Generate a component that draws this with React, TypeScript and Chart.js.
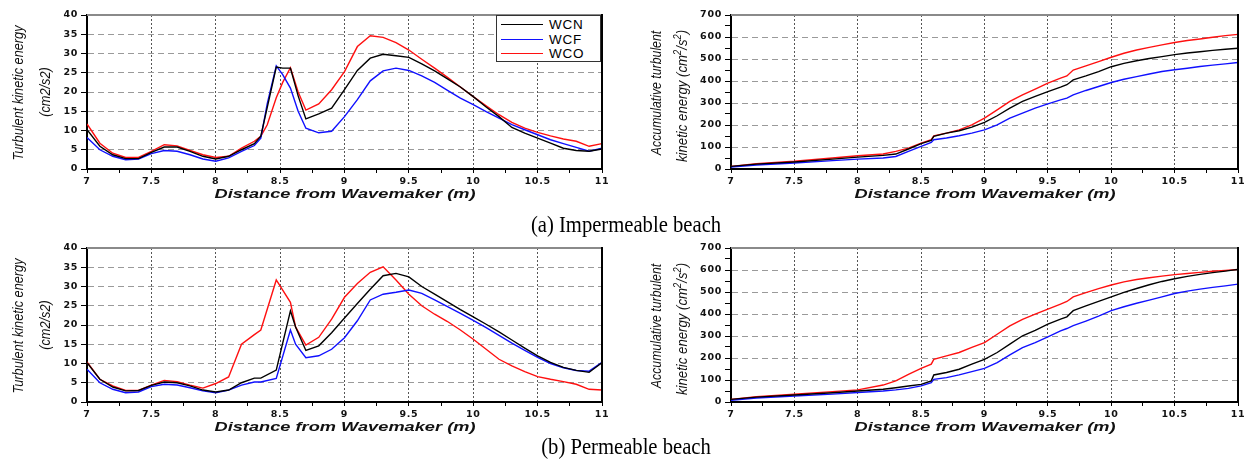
import React, { useEffect, useRef } from "react";
import { Chart, registerables } from "chart.js";

Chart.register(...registerables);

// ---------- (a) Impermeable beach: turbulent kinetic energy ----------
const X_TKE_IMP = [7, 7.1, 7.2, 7.3, 7.4, 7.5, 7.6, 7.7, 7.8, 7.9, 8, 8.1, 8.2, 8.3, 8.35, 8.4, 8.47, 8.52, 8.58, 8.64, 8.7, 8.8, 8.9, 9, 9.1, 9.2, 9.3, 9.4, 9.5, 9.6, 9.7, 9.8, 9.9, 10, 10.1, 10.2, 10.3, 10.4, 10.5, 10.6, 10.7, 10.8, 10.9, 11];
const TKE_IMP_WCN = [10.2, 5.9, 3.7, 2.7, 2.7, 4.3, 5.7, 5.7, 4.6, 3.3, 2.6, 3.3, 5.0, 6.6, 8.5, 16, 26.5, 26.2, 26.2, 19, 13.0, 14.3, 15.8, 20.6, 25.6, 28.8, 29.8, 29.4, 29.0, 27.3, 25.5, 23.4, 21.3, 18.8, 16.1, 13.6, 10.8, 9.3, 8.0, 6.7, 5.4, 4.8, 4.6, 5.2];
const TKE_IMP_WCF = [8.2, 5.0, 3.3, 2.4, 2.6, 4.0, 4.8, 4.6, 3.7, 2.6, 2.0, 2.9, 4.6, 6.1, 8.0, 17, 26.8, 24.5, 21, 15, 10.6, 9.4, 9.8, 13.6, 18.0, 22.9, 25.5, 26.2, 25.6, 24.2, 22.5, 20.4, 18.4, 16.7, 14.9, 13.2, 11.5, 10.2, 8.9, 7.6, 6.6, 5.6, 4.6, 5.4];
const TKE_IMP_WCO = [11.7, 6.7, 4.1, 3.0, 3.0, 4.6, 6.3, 6.0, 4.8, 3.7, 3.0, 3.3, 5.4, 7.2, 8.5, 11.5, 18.5, 22.5, 26.3, 20, 15.3, 16.9, 20.6, 25.3, 31.8, 34.6, 34.2, 32.8, 30.9, 28.5, 26.2, 23.8, 21.3, 18.8, 16.4, 14.1, 12.1, 10.6, 9.5, 8.6, 7.8, 7.2, 5.9, 6.6];

// ---------- (b) Permeable beach: turbulent kinetic energy ----------
const X_TKE_PER = [7, 7.1, 7.2, 7.3, 7.4, 7.5, 7.6, 7.7, 7.8, 7.9, 8, 8.1, 8.2, 8.3, 8.35, 8.47, 8.58, 8.62, 8.7, 8.8, 8.9, 9, 9.1, 9.2, 9.3, 9.4, 9.5, 9.6, 9.7, 9.8, 9.9, 10, 10.1, 10.2, 10.3, 10.4, 10.5, 10.6, 10.7, 10.8, 10.9, 11];
const TKE_PER_WCN = [10.2, 5.9, 3.9, 2.9, 3.0, 4.3, 5.2, 5.0, 4.2, 3.1, 2.6, 3.1, 5.0, 6.2, 6.2, 8.3, 23.7, 19.5, 13.4, 14.6, 18.0, 21.8, 25.6, 29.3, 32.8, 33.4, 32.5, 30.0, 28.0, 26.0, 24.0, 22.1, 20.2, 18.2, 16.1, 14.0, 12.0, 10.3, 9.0, 8.2, 7.7, 10.2];
const TKE_PER_WCF = [8.5, 5.0, 3.3, 2.4, 2.6, 4.0, 4.6, 4.4, 3.7, 2.9, 2.4, 3.1, 4.4, 5.2, 5.2, 6.1, 18.7, 15.0, 11.5, 12.0, 13.7, 16.7, 21.1, 26.5, 28.0, 28.5, 29.1, 28.2, 26.5, 24.8, 23.0, 21.2, 19.3, 17.3, 15.3, 13.4, 11.6, 10.0, 8.9, 8.2, 8.0, 10.3];
const TKE_PER_WCO = [10.4, 5.9, 4.2, 3.0, 3.0, 4.4, 5.6, 5.3, 4.4, 3.6, 4.8, 6.5, 15.0, 17.5, 18.7, 31.7, 25.9, 19.5, 14.8, 16.8, 21.5, 27.2, 30.8, 33.7, 35.1, 31.7, 28.0, 25.0, 22.8, 20.9, 18.7, 16.3, 13.7, 11.1, 9.4, 7.9, 6.6, 5.9, 5.3, 4.6, 3.3, 3.1];

// ---------- Accumulative turbulent kinetic energy ----------
const X_ACC = [7, 7.2, 7.5, 7.8, 8, 8.2, 8.3, 8.4, 8.5, 8.58, 8.6, 8.7, 8.8, 8.9, 9, 9.1, 9.2, 9.3, 9.4, 9.5, 9.6, 9.65, 9.7, 9.8, 9.9, 10, 10.1, 10.2, 10.3, 10.4, 10.5, 10.6, 10.7, 10.8, 10.9, 11];
const ACC_IMP_WCN = [12, 22, 32, 45, 54, 62, 68, 91, 115, 130, 148, 163, 174, 190, 212, 242, 277, 307, 330, 352, 372, 383, 405, 423, 443, 465, 480, 492, 502, 511, 520, 527, 533, 539, 544, 549];
const ACC_IMP_WCF = [9, 18, 27, 38, 45, 50, 57, 80, 103, 121, 133, 141, 151, 163, 178, 201, 231, 254, 277, 296, 314, 322, 337, 357, 375, 393, 408, 420, 432, 443, 451, 458, 466, 472, 478, 484];
const ACC_IMP_WCO = [12, 24, 35, 50, 60, 68, 80, 95, 118, 133, 151, 163, 178, 201, 231, 269, 307, 337, 363, 390, 413, 423, 450, 469, 488, 508, 526, 541, 553, 564, 575, 584, 591, 599, 606, 612];
const ACC_PER_WCN = [12, 22, 32, 42, 50, 58, 65, 73, 80, 96, 123, 134, 149, 172, 194, 225, 263, 301, 326, 354, 377, 387, 415, 437, 457, 478, 498, 516, 533, 548, 560, 571, 580, 588, 595, 603];
const ACC_PER_WCF = [8, 18, 27, 36, 43, 50, 55, 62, 73, 88, 103, 111, 123, 138, 153, 179, 214, 247, 270, 296, 323, 334, 347, 368, 390, 415, 433, 449, 463, 478, 493, 504, 513, 521, 528, 536];
const ACC_PER_WCO = [12, 24, 35, 47, 55, 77, 96, 126, 153, 172, 194, 210, 225, 248, 270, 308, 346, 376, 399, 422, 445, 457, 478, 497, 515, 532, 546, 557, 565, 572, 579, 584, 589, 594, 598, 603];

const SERIES_NAMES = ["WCN", "WCF", "WCO"];
const SERIES_COLORS = ["#000000", "#1010ff", "#ff1010"];
const X_TITLE = "Distance from Wavemaker (m)";

const TICK_FONT = { family: "DejaVu Sans", size: 9.5, weight: "bold" as const };

function isHalf(v: number) {
  return Math.abs(v * 2 - Math.round(v * 2)) < 1e-6;
}

const boxPlugin = {
  id: "box",
  afterDraw(chart: any) {
    const { ctx, chartArea: a } = chart;
    ctx.save();
    ctx.lineWidth = 2;
    ctx.strokeStyle = "#8a8a8a";
    ctx.beginPath();
    ctx.moveTo(a.left, a.top);
    ctx.lineTo(a.right, a.top);
    ctx.stroke();
    ctx.strokeStyle = "#000";
    ctx.beginPath();
    ctx.moveTo(a.right, a.top - 1);
    ctx.lineTo(a.right, a.bottom);
    ctx.stroke();
    ctx.restore();
  },
};

const spacingPlugin = {
  id: "spacing",
  beforeDraw(chart: any) {
    chart.ctx.letterSpacing = "0.7px";
  },
  afterDraw(chart: any) {
    chart.ctx.letterSpacing = "0px";
  },
};

type PanelProps = {
  left: number;
  top: number;
  width: number;
  height: number;
  areaLeft: number;
  padRight: number;
  xs: number[];
  ys: number[][];
  yMax: number;
  yStep: number;
  yLabelStep: number;
};

function Panel(p: PanelProps) {
  const ref = useRef<HTMLCanvasElement>(null);
  useEffect(() => {
    const datasets = p.ys.map((ys, k) => ({
      label: SERIES_NAMES[k],
      data: p.xs.map((x, i) => ({ x, y: ys[i] })),
      borderColor: SERIES_COLORS[k],
      backgroundColor: SERIES_COLORS[k],
      borderWidth: 1.4,
      pointRadius: 0,
      tension: 0,
      fill: false,
    }));
    const chart = new Chart(ref.current as HTMLCanvasElement, {
      type: "line",
      data: { datasets },
      options: {
        animation: false,
        responsive: false,
        maintainAspectRatio: false,
        devicePixelRatio: 1,
        layout: { padding: { left: 0, top: 15, right: p.padRight, bottom: 0 } },
        plugins: { legend: { display: false }, tooltip: { enabled: false } },
        scales: {
          x: {
            type: "linear",
            min: 7,
            max: 11,
            ticks: {
              stepSize: 0.25,
              autoSkip: false,
              maxRotation: 0,
              padding: 3,
              color: "#111",
              font: TICK_FONT,
              callback: (v: any) => (isHalf(Number(v)) ? String(v) : ""),
            },
            grid: {
              color: (c: any) => (c.tick && isHalf(c.tick.value) ? "#555" : "transparent"),
              tickColor: "#000",
              tickLength: 4,
              lineWidth: 1,
            },
            border: { color: "#000", width: 2, dash: [2, 2] },
            afterFit: (s: any) => {
              s.height = 41;
            },
          },
          y: {
            type: "linear",
            min: 0,
            max: p.yMax,
            ticks: {
              stepSize: p.yStep,
              autoSkip: false,
              padding: 3,
              color: "#111",
              font: TICK_FONT,
              callback: (v: any) => (Number(v) % p.yLabelStep === 0 ? String(v) : ""),
            },
            grid: {
              color: (c: any) =>
                c.tick && c.tick.value % p.yLabelStep === 0 ? "#9a9a9a" : "transparent",
              tickColor: "#000",
              tickLength: 6,
              lineWidth: 1,
            },
            border: { color: "#000", width: 2, dash: [6, 4] },
            afterFit: (s: any) => {
              s.width = p.areaLeft;
            },
          },
        },
      } as any,
      plugins: [boxPlugin, spacingPlugin],
    });
    return () => chart.destroy();
  }, []);
  return (
    <canvas
      ref={ref}
      width={p.width}
      height={p.height}
      style={{ position: "absolute", left: p.left, top: p.top, width: p.width, height: p.height }}
    />
  );
}

const abs = (x: number, y: number, extra: React.CSSProperties): React.CSSProperties => ({
  position: "absolute",
  left: x,
  top: y,
  whiteSpace: "nowrap",
  lineHeight: 1,
  ...extra,
});

function YTitle({ x, y, children, sx }: { x: number; y: number; children: any; sx: number }) {
  return (
    <div
      style={abs(x, y, {
        transform: `translate(-50%, -50%) rotate(-90deg) scaleX(${sx})`,
        fontFamily: "'Liberation Sans', Arial, sans-serif",
        fontStyle: "italic",
        fontSize: 15,
        color: "#111",
      })}
    >
      {children}
    </div>
  );
}

function XTitle({ x, y }: { x: number; y: number }) {
  return (
    <div
      style={abs(x, y, {
        transform: "translate(-50%, -50%) scaleX(1.35)",
        fontFamily: "'Liberation Sans', Arial, sans-serif",
        fontStyle: "italic",
        fontWeight: "bold",
        fontSize: 13.5,
        color: "#111",
      })}
    >
      {X_TITLE}
    </div>
  );
}

function Caption({ y, text }: { y: number; text: string }) {
  return (
    <div
      style={abs(626, y, {
        transform: "translate(-50%, -50%) scaleX(0.86)",
        fontFamily: "'Liberation Serif', 'Times New Roman', serif",
        fontSize: 24,
        color: "#000",
      })}
    >
      {text}
    </div>
  );
}

function Legend() {
  return (
    <div
      style={{
        position: "absolute",
        left: 496,
        top: 15,
        width: 105,
        height: 47,
        border: "1.5px solid #333",
        background: "#fff",
        boxSizing: "border-box",
      }}
    >
      {SERIES_NAMES.map((n, i) => (
        <div key={n} style={{ position: "absolute", left: 0, top: 2 + i * 14.5, height: 13, width: 100 }}>
          <div
            style={{
              position: "absolute",
              left: 4,
              top: 6,
              width: 42,
              height: 0,
              borderTop: `1.3px solid ${SERIES_COLORS[i]}`,
            }}
          />
          <div
            style={{
              position: "absolute",
              left: 52,
              top: 0,
              fontFamily: "'Liberation Sans', Arial, sans-serif",
              fontSize: 13.5,
              letterSpacing: 0.8,
              lineHeight: "13px",
              color: "#000",
            }}
          >
            {n}
          </div>
        </div>
      ))}
    </div>
  );
}

export default function App() {
  const rows = [
    { top: 0, tke: [TKE_IMP_WCN, TKE_IMP_WCF, TKE_IMP_WCO], xt: X_TKE_IMP, acc: [ACC_IMP_WCN, ACC_IMP_WCF, ACC_IMP_WCO] },
    { top: 233, tke: [TKE_PER_WCN, TKE_PER_WCF, TKE_PER_WCO], xt: X_TKE_PER, acc: [ACC_PER_WCN, ACC_PER_WCF, ACC_PER_WCO] },
  ];
  return (
    <div style={{ position: "absolute", left: 0, top: 0, width: 1252, height: 468, background: "#fff", overflow: "hidden" }}>
      {rows.map((r, ri) => (
        <React.Fragment key={ri}>
          <Panel left={0} top={r.top} width={626} height={210} areaLeft={87} padRight={24} xs={r.xt} ys={r.tke} yMax={40} yStep={5} yLabelStep={5} />
          <Panel left={626} top={r.top} width={626} height={210} areaLeft={105} padRight={14} xs={X_ACC} ys={r.acc} yMax={700} yStep={50} yLabelStep={100} />
          <YTitle x={17} y={r.top + 93} sx={0.85}>Turbulent kinetic energy</YTitle>
          <YTitle x={44} y={r.top + 92} sx={0.85}>(cm2/s2)</YTitle>
          <YTitle x={655} y={r.top + 93} sx={0.82}>Accumulative turbulent</YTitle>
          <YTitle x={680} y={r.top + 96} sx={0.88}>
            kinetic energy (cm<sup style={{ fontSize: "0.7em" }}>2</sup>/s<sup style={{ fontSize: "0.7em" }}>2</sup>)
          </YTitle>
          <XTitle x={344.5} y={r.top + 194} />
          <XTitle x={984.5} y={r.top + 194} />
        </React.Fragment>
      ))}
      <Legend />
      <Caption y={224} text="(a) Impermeable beach" />
      <Caption y={446} text="(b) Permeable beach" />
    </div>
  );
}
